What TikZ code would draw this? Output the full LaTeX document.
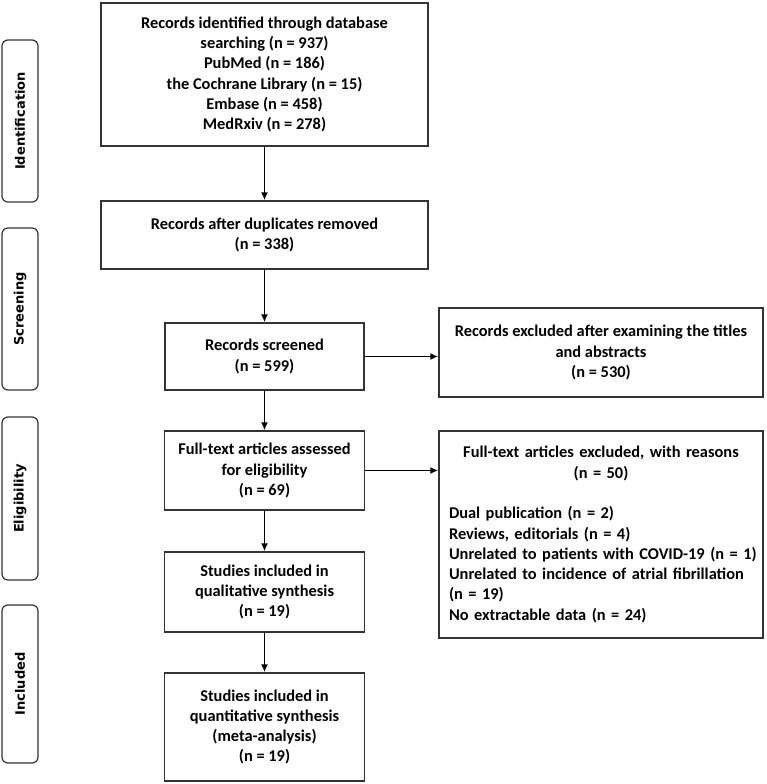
\documentclass[tikz,border=0pt]{standalone}
\usepackage{fontspec}
\setmainfont{Carlito}
\newfontfamily\stagefont{DejaVu Sans}
\usetikzlibrary{arrows.meta}

\tikzset{
  box/.style={draw=black!80, line width=1.5pt, align=center, inner sep=0pt,
    font=\bfseries\fontsize{16.4}{20.3}\selectfont},
  stagebox/.style={draw=black!80, line width=1.2pt, rounded corners=6pt, rotate=90,
    inner sep=0pt, minimum height=36pt, font=\stagefont\bfseries\fontsize{13}{15}\selectfont},
  arr/.style={-{Latex[length=8pt,width=7pt]}, line width=1.5pt, black}
}

\begin{document}
\begin{tikzpicture}[x=1pt,y=-1pt]
    \useasboundingbox (0,0) rectangle (767,784);
    % Stages
    \foreach \name/\y/\h/\i in {Identification/121/162/1,Screening/309/162/2,Eligibility/498.5/163/3,Included/684/158/4} {
        \node[stagebox, minimum width=\h pt] (Stage-\i) at (20,\y) {\name};
    }
    % Records column
    \foreach \text/\y/\w/\h/\i in {
        {Records identified through database\\searching (n = 937)\\PubMed (n = 186)\\the Cochrane Library (n = 15)\\Embase (n = 458)\\MedRxiv (n = 278)}/74.5/327/143/1,
        {Records after duplicates removed\\(n = 338)}/235/327/68/2,
        {Records screened\\(n = 599)}/356.5/199/67/3,
        {Full-text articles assessed\\for eligibility\\(n = 69)}/470.5/200/79/4,
        {Studies included in\\qualitative synthesis\\(n = 19)}/592/200/80/5,
        {Studies included in\\quantitative synthesis\\(meta-analysis)\\(n = 19)}/727/200/108/6} {
        \node[box, minimum width=\w pt, minimum height=\h pt] (Rec-\i) at (264.5,\y) {\text};
    }
    % Excluded
    \node[box, minimum width=324pt, minimum height=89pt] (Excl-1) at (601,352.5)
        {Records excluded after examining the titles\\and abstracts\\(n = 530)};
    \node[box, minimum width=324pt, minimum height=207pt, text width=304pt, align=left] (Excl-2) at (601,534.5)
        {\centering Full-text articles excluded, with reasons\\(n = 50)\par
         \vspace{20.3pt}\raggedright
         Dual publication (n = 2)\\
         Reviews, editorials (n = 4)\\
         \mbox{Unrelated to patients with COVID-19 (n = 1)}\\
         Unrelated to incidence of atrial fibrillation\\
         (n = 19)\\
         No extractable data (n = 24)};
    % Arrows
    \foreach \i/\j in {1/2,2/3,3/4,4/5,5/6} {
        \draw[arr] (Rec-\i) -- (Rec-\j);
    }
    \draw[arr] (Rec-3.east) -- (Rec-3.east -| Excl-1.west);
    \draw[arr] (Rec-4.east) -- (Rec-4.east -| Excl-2.west);
\end{tikzpicture}
\end{document}
